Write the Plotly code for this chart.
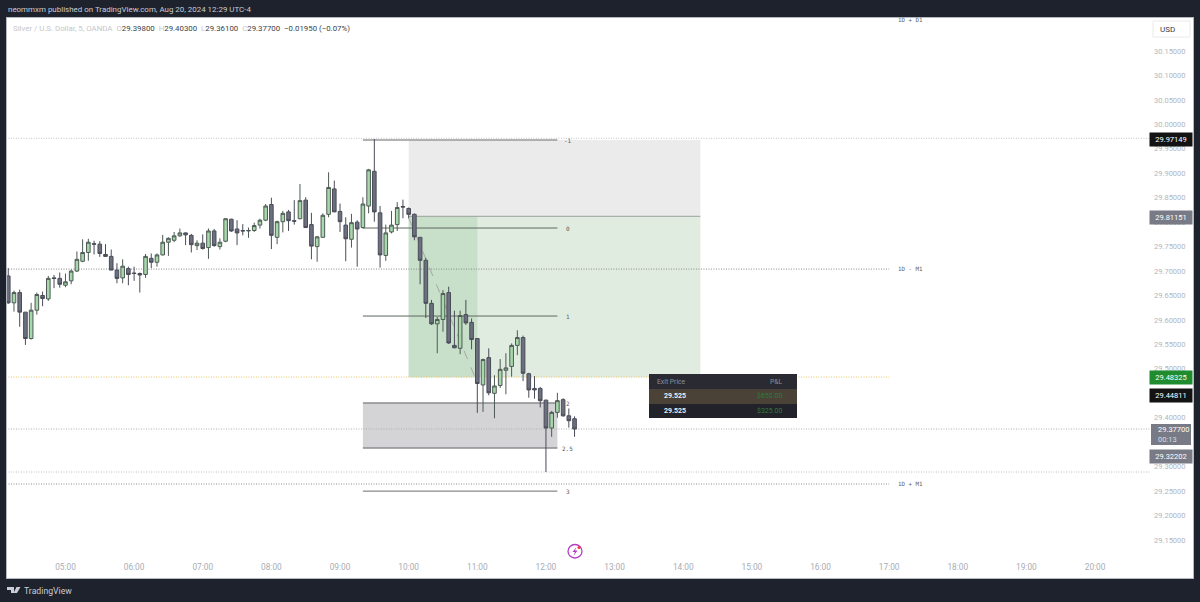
import pandas as pd
import plotly.graph_objects as go

W, H = 1200, 602
L_PX, R_PX, T_PX, B_PX = 7, 1193, 18, 578

# OHLC, one bar every 5 minutes from 04:10
opens = [29.690, 29.635, 29.656, 29.616, 29.562, 29.620, 29.650, 29.643, 29.686, 29.685,
         29.671, 29.680, 29.700, 29.720, 29.738, 29.756, 29.755, 29.734, 29.730, 29.702,
         29.686, 29.705, 29.696, 29.695, 29.693, 29.726, 29.718, 29.733, 29.759, 29.763,
         29.772, 29.778, 29.773, 29.752, 29.757, 29.748, 29.782, 29.750, 29.761, 29.806,
         29.786, 29.783, 29.782, 29.783, 29.794, 29.804, 29.836, 29.769, 29.801, 29.821,
         29.803, 29.807, 29.845, 29.795, 29.750, 29.769, 29.816, 29.868, 29.822, 29.794,
         29.765, 29.800, 29.789, 29.833, 29.904, 29.819, 29.732, 29.780, 29.795, 29.832,
         29.828, 29.816, 29.769, 29.722, 29.634, 29.592, 29.601, 29.656, 29.548, 29.542,
         29.611, 29.595, 29.562, 29.467, 29.523, 29.450, 29.466, 29.497, 29.505, 29.548,
         29.564, 29.490, 29.460, 29.460, 29.436, 29.379, 29.411, 29.437, 29.404, 29.398]
highs = [29.706, 29.660, 29.662, 29.616, 29.635, 29.656, 29.658, 29.690, 29.692, 29.697,
         29.695, 29.703, 29.740, 29.765, 29.766, 29.762, 29.761, 29.755, 29.744, 29.716,
         29.724, 29.709, 29.709, 29.697, 29.735, 29.736, 29.736, 29.774, 29.769, 29.780,
         29.787, 29.779, 29.776, 29.763, 29.775, 29.787, 29.786, 29.767, 29.808, 29.807,
         29.804, 29.796, 29.789, 29.799, 29.807, 29.837, 29.850, 29.803, 29.823, 29.825,
         29.845, 29.878, 29.851, 29.819, 29.772, 29.818, 29.902, 29.885, 29.838, 29.810,
         29.817, 29.804, 29.851, 29.909, 29.970, 29.833, 29.795, 29.823, 29.841, 29.846,
         29.830, 29.818, 29.769, 29.727, 29.641, 29.606, 29.661, 29.668, 29.619, 29.619,
         29.641, 29.603, 29.562, 29.521, 29.542, 29.487, 29.520, 29.532, 29.552, 29.579,
         29.568, 29.492, 29.485, 29.463, 29.437, 29.414, 29.451, 29.440, 29.419, 29.403]
lows = [29.633, 29.617, 29.586, 29.549, 29.560, 29.611, 29.628, 29.639, 29.665, 29.666,
        29.667, 29.673, 29.698, 29.718, 29.721, 29.734, 29.729, 29.729, 29.702, 29.675,
        29.675, 29.671, 29.680, 29.656, 29.686, 29.706, 29.709, 29.732, 29.731, 29.759,
        29.770, 29.753, 29.738, 29.743, 29.744, 29.725, 29.750, 29.744, 29.759, 29.780,
        29.753, 29.773, 29.768, 29.780, 29.787, 29.802, 29.745, 29.755, 29.779, 29.782,
        29.795, 29.806, 29.789, 29.724, 29.719, 29.768, 29.810, 29.821, 29.780, 29.720,
        29.748, 29.709, 29.787, 29.818, 29.801, 29.707, 29.721, 29.777, 29.782, 29.808,
        29.808, 29.763, 29.673, 29.604, 29.590, 29.532, 29.576, 29.551, 29.543, 29.530,
        29.590, 29.540, 29.410, 29.412, 29.446, 29.399, 29.461, 29.448, 29.484, 29.528,
        29.475, 29.441, 29.439, 29.421, 29.289, 29.361, 29.400, 29.402, 29.380, 29.361]
closes = [29.635, 29.656, 29.616, 29.562, 29.620, 29.652, 29.644, 29.685, 29.685, 29.673,
          29.678, 29.700, 29.724, 29.738, 29.759, 29.755, 29.736, 29.730, 29.702, 29.685,
          29.710, 29.693, 29.695, 29.692, 29.730, 29.718, 29.733, 29.759, 29.767, 29.772,
          29.778, 29.774, 29.754, 29.757, 29.746, 29.782, 29.752, 29.759, 29.807, 29.782,
          29.778, 29.782, 29.783, 29.793, 29.804, 29.833, 29.773, 29.801, 29.818, 29.803,
          29.802, 29.844, 29.789, 29.751, 29.770, 29.814, 29.871, 29.821, 29.801, 29.766,
          29.799, 29.786, 29.837, 29.907, 29.821, 29.733, 29.778, 29.794, 29.830, 29.831,
          29.816, 29.770, 29.722, 29.634, 29.592, 29.601, 29.654, 29.553, 29.543, 29.609,
          29.594, 29.560, 29.470, 29.519, 29.451, 29.465, 29.499, 29.502, 29.548, 29.564,
          29.491, 29.457, 29.457, 29.435, 29.379, 29.411, 29.435, 29.404, 29.394, 29.377]
bar_times = pd.date_range("2024-08-20 04:10", periods=len(opens), freq="5min")

price_ticks = [29.15, 29.20, 29.25, 29.30, 29.35, 29.40, 29.45, 29.50, 29.55, 29.60, 29.65,
               29.70, 29.75, 29.80, 29.85, 29.90, 29.95, 30.00, 30.05, 30.10, 30.15]
hour_ticks = [f"2024-08-20 {h:02d}:00" for h in range(5, 21)]
hour_labels = [f"{h:02d}:00" for h in range(5, 21)]

# price, right end, colour
levels = [(29.97149, "2024-08-20 20:48", "#c4c4c4"),
          (29.7040, "2024-08-20 17:00", "#8a8a8a"),
          (29.48325, "2024-08-20 17:00", "#ecc66a"),
          (29.3770, "2024-08-20 20:48", "#b0b0b0"),
          (29.2890, "2024-08-20 20:48", "#bcbcbc"),
          (29.2645, "2024-08-20 17:00", "#8a8a8a")]
level_notes = [("1D + D1", 30.2135), ("1D - M1", 29.7040), ("1D + M1", 29.2645)]

fib_names = ["-1", "0", "1", "2", "2.5", "3"]
fib_prices = [29.9680, 29.7880, 29.6080, 29.4300, 29.3380, 29.2500]
fib_colors = ["#9a9a9a", "#5f6862", "#5f6862", "#8d8d90", "#8d8d90", "#6d6d70"]

# price scale tags: text, pixel centre y, colour
price_tags = [("29.97149", 139.5, "#131313"),
              ("29.81151", 217.5, "#787b86"),
              ("29.48325", 377.5, "#1f8c2f"),
              ("29.44811", 395.5, "#131313"),
              ("29.32202", 456.5, "#787b86")]

pnl_exit = ["29.525", "29.525"]
pnl_value = ["$650.00", "$325.00"]

DOTTED = "1px,1.5px"


def px(x):
    return (x - L_PX) / (R_PX - L_PX)


def py(y):
    return (B_PX - y) / (B_PX - T_PX)


fig = go.Figure()
fig.add_trace(go.Candlestick(
    x=bar_times, open=opens, high=highs, low=lows, close=closes,
    increasing=dict(fillcolor="#a6d8aa", line=dict(color="#4e5a54", width=1)),
    decreasing=dict(fillcolor="#6c6f7e", line=dict(color="#4a4c58", width=1)),
    whiskerwidth=0, showlegend=False, hoverinfo="skip"))

shapes = []


def rect(x0, x1, y0, y1, fill):
    shapes.append(dict(type="rect", xref="x", yref="y", x0=x0, x1=x1, y0=y0, y1=y1,
                       fillcolor=fill, line_width=0, layer="below"))


def line(x0, x1, y0, y1, color, width=1, dash="solid"):
    shapes.append(dict(type="line", xref="x", yref="y", x0=x0, x1=x1, y0=y0, y1=y1,
                       line=dict(color=color, width=width, dash=dash), layer="below"))


def panel(x0, x1, y0, y1, fill, line_color=None):
    shapes.append(dict(type="rect", xref="paper", yref="paper", x0=px(x0), x1=px(x1),
                       y0=py(y1), y1=py(y0), fillcolor=fill,
                       line=dict(color=line_color or fill, width=1 if line_color else 0),
                       layer="above"))


# short position boxes
rect("2024-08-20 10:00", "2024-08-20 14:15", 29.8120, 29.9680, "#ebebeb")
rect("2024-08-20 10:00", "2024-08-20 14:15", 29.4830, 29.8120, "#dfecdf")
rect("2024-08-20 10:00", "2024-08-20 11:00", 29.4830, 29.8120, "#c8dfca")
line("2024-08-20 10:00", "2024-08-20 14:15", 29.8120, 29.8120, "#9a9f9b")
rect("2024-08-20 09:20", "2024-08-20 12:10", 29.3380, 29.4300, "#d4d4d6")
line("2024-08-20 10:00", "2024-08-20 10:58", 29.8090, 29.4830, "#a5a8a6", dash="dash")

for price, end, color in levels:
    line("2024-08-20 04:08", end, price, price, color, dash=DOTTED)
for name, price, color in zip(fib_names, fib_prices, fib_colors):
    line("2024-08-20 09:20", "2024-08-20 12:10", price, price, color,
         width=1.5 if name in ("2", "2.5", "-1") else 1)

notes = []
mono = "DejaVu Sans Mono"
for name, price in zip(fib_names, fib_prices):
    notes.append(dict(x="2024-08-20 12:19", y=price, xref="x", yref="y", text=name, showarrow=False,
                      xanchor="center", font=dict(family=mono, size=6, color="#5d5d60")))
for name, price in level_notes:
    notes.append(dict(x="2024-08-20 17:19", y=price, xref="x", yref="y", text=name, showarrow=False,
                      xanchor="center", font=dict(family=mono, size=5.8, color="#5d5d60")))


def label(x, y, text, size=8, color="#333333", anchor="left", family="Roboto", **kw):
    notes.append(dict(x=px(x), y=py(y), xref="paper", yref="paper", text=text, showarrow=False,
                      xanchor=anchor, yanchor="middle", font=dict(family=family, size=size, color=color), **kw))


# header, footer and status line
label(6, 9.5, "neommxm published on TradingView.com, Aug 20, 2024 12:29 UTC-4", 7.95, "#c9ccd3")
label(22, 590.5, "TradingView", 8.7, "#c9ccd3")
grey = '<span style="color:#c4c6cc">'
label(11, 28, grey + "Silver / U.S. Dollar, 5, OANDA</span>  " + grey + "O</span>29.39800  "
      + grey + "H</span>29.40300  " + grey + "L</span>29.36100  " + grey + "C</span>29.37700  −0.01950 (−0.07%)",
      7.85, "#3c3f48")

# price scale tags
for text, y, color in price_tags:
    notes.append(dict(x=px(1171), y=py(y), xref="paper", yref="paper", text=text, showarrow=False,
                      xanchor="center", yanchor="middle", bgcolor=color, width=40, height=11,
                      font=dict(family="Roboto", size=7.5, color="#ffffff")))
panel(1151, 1191, 424, 445, "#787b86")
label(1156, 429.5, "29.37700", 7.5, "#ffffff")
label(1156, 439.5, "00:13", 7.5, "#dcdde2")
panel(1153, 1190, 21, 37, "#ffffff", "#e9eaef")
label(1158, 29, "USD", 8, "#3a3d46")

# P&L table
panel(649, 797, 374, 389, "#2a2a32")
panel(649, 797, 389, 404, "#4a4137")
panel(649, 797, 404, 418, "#22222a")
label(655, 382, "Exit Price", 6.8, "#8e8f96")
label(785, 382, "P&L", 6.8, "#8e8f96", anchor="right")
for row_y, ex, val in zip([396.5, 411], pnl_exit, pnl_value):
    label(662, row_y, "<b>" + ex + "</b>", 7, "#eeeeee")
    label(785, row_y, val, 7, "#2f7d3a", anchor="right")

# lightning badge
shapes.append(dict(type="circle", xref="paper", yref="paper", x0=px(568), x1=px(582), y0=py(558), y1=py(544.5),
                   line=dict(color="#b23fc4", width=1.3), fillcolor="#ffffff", layer="above"))
shapes.append(dict(type="circle", xref="paper", yref="paper", x0=px(577.5), x1=px(580.5), y0=py(549), y1=py(546),
                   line_width=0, fillcolor="#f23645", layer="above"))
bolt = [(576.5, 547), (572.5, 552), (575, 552), (573.5, 556), (577.5, 550.5), (575, 550.5)]
shapes.append(dict(type="path", xref="paper", yref="paper", layer="above", fillcolor="#b23fc4", line_width=0,
                   path="M" + " L".join(f"{px(a):.5f},{py(b):.5f}" for a, b in bolt) + " Z"))
# TradingView mark
mark = [[(7, 587), (14, 587), (14, 593), (11, 593), (11, 590), (7, 590)], [(16.5, 587), (20.5, 587), (17, 593), (13.5, 593)]]
for part in mark:
    shapes.append(dict(type="path", xref="paper", yref="paper", layer="above", fillcolor="#c9ccd3", line_width=0,
                       path="M" + " L".join(f"{px(a):.5f},{py(b):.5f}" for a, b in part) + " Z"))

fig.update_layout(
    width=W, height=H, autosize=False,
    margin=dict(l=L_PX, r=W - R_PX, t=T_PX, b=H - B_PX, pad=0),
    paper_bgcolor="#1e222d", plot_bgcolor="#ffffff",
    boxgap=0.1, shapes=shapes, annotations=notes, showlegend=False,
    font=dict(family="Roboto"),
    xaxis=dict(type="date", range=["2024-08-20 04:08:54", "2024-08-20 21:25:36"],
               tickvals=hour_ticks, ticktext=hour_labels, ticklabelposition="inside",
               ticks="inside", ticklen=5, tickcolor="rgba(0,0,0,0)", showgrid=False, zeroline=False,
               tickfont=dict(size=8.3, color="#a9acb5"), rangeslider=dict(visible=False),
               showline=True, linecolor="#b4b8c0", mirror=True),
    yaxis=dict(range=[29.0723, 30.2175], side="right", tickvals=price_ticks, tickformat=".5f",
               ticklabelposition="inside", ticks="inside", ticklen=6, tickcolor="rgba(0,0,0,0)",
               showgrid=False, zeroline=False, tickfont=dict(size=7.5, color="#b2b5be"),
               showline=True, linecolor="#b4b8c0", mirror=True))

fig.write_html("out.html", config=dict(displayModeBar=False), post_script="document.body.style.margin='0';")
